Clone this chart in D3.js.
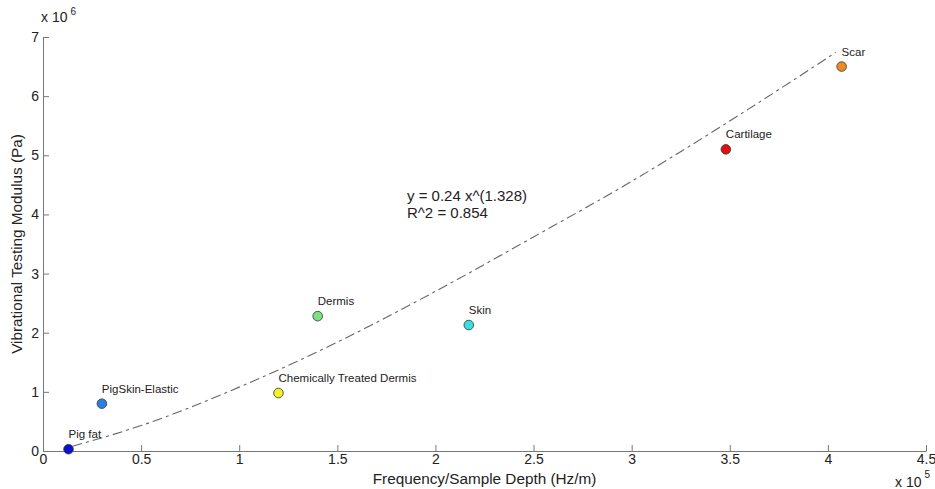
<!DOCTYPE html>
<html>
<head>
<meta charset="utf-8">
<script src="https://cdn.jsdelivr.net/npm/d3@7"></script>
<style>
    body { margin: 0; background: #fff; }
    svg text { font-family: "Liberation Sans", Arial, sans-serif; fill: #222; }
</style>
</head>
<body>
<svg id="chart" width="935" height="489"></svg>
<script>
// samples (x in 1e5 Hz/m, y in 1e6 Pa)
const names = ["Pig fat", "PigSkin-Elastic", "Chemically Treated Dermis", "Dermis", "Skin", "Cartilage", "Scar"];
const xVals = [0.13, 0.30, 1.20, 1.40, 2.17, 3.48, 4.07];
const yVals = [0.03, 0.80, 0.98, 2.28, 2.13, 5.10, 6.50];
const colors = ["#0a10d0", "#2a7fe0", "#f2f226", "#7fe07f", "#36e0e0", "#e01010", "#f08a22"];

// fitted trend line
const fitX = [0.15, 0.5, 1.0, 1.5, 2.0, 2.5, 3.0, 3.5, 4.04];
const fitY = [0.08, 0.43, 1.08, 1.84, 2.70, 3.62, 4.56, 5.58, 6.74];

const xTicks = [0, 0.5, 1, 1.5, 2, 2.5, 3, 3.5, 4, 4.5];
const yTicks = [0, 1, 2, 3, 4, 5, 6, 7];

const svg = d3.select("#chart");
const x = d3.scaleLinear().domain([0, 4.5]).range([43, 926]);
const y = d3.scaleLinear().domain([0, 7]).range([451, 37]);
const axisColor = "#777";
const fmt = d => String(d);

// axes
const xAxis = svg.append("g")
    .attr("transform", `translate(0,${y(0)})`)
    .call(d3.axisBottom(x).tickValues(xTicks).tickSizeInner(-6).tickSizeOuter(0).tickPadding(3)
        .tickFormat(fmt));
const yAxis = svg.append("g")
    .attr("transform", `translate(${x(0)},0)`)
    .call(d3.axisLeft(y).tickValues(yTicks).tickSizeInner(-6).tickSizeOuter(0).tickPadding(4)
        .tickFormat(fmt));
[xAxis, yAxis].forEach(g => {
    g.select(".domain").attr("stroke", axisColor);
    g.selectAll(".tick line").attr("stroke", axisColor);
    g.selectAll(".tick text").style("font-size", "14px").attr("fill", "#222");
});

// exponent labels
const e1 = svg.append("text").attr("x", 41).attr("y", 22).style("font-size", "14px");
e1.append("tspan").text("x 10");
e1.append("tspan").attr("dx", 3).attr("dy", -7).style("font-size", "10px").text("6");
const e2 = svg.append("text").attr("x", 895).attr("y", 487).style("font-size", "14px");
e2.append("tspan").text("x 10");
e2.append("tspan").attr("dx", 3).attr("dy", -9).style("font-size", "10px").text("5");

// axis titles
svg.append("text")
    .attr("x", (x(0) + x(4.5)) / 2).attr("y", 484)
    .attr("text-anchor", "middle").style("font-size", "15.3px")
    .text("Frequency/Sample Depth (Hz/m)");
svg.append("text")
    .attr("transform", `translate(17,${(y(0) + y(7)) / 2}) rotate(-90)`)
    .attr("text-anchor", "middle").attr("dy", "0.35em").style("font-size", "15.3px")
    .text("Vibrational Testing Modulus (Pa)");

// fit curve
const line = d3.line().x((d, i) => x(fitX[i])).y(d => y(d)).curve(d3.curveMonotoneX);
svg.append("path")
    .datum(fitY)
    .attr("d", line)
    .attr("fill", "none")
    .attr("stroke", "#666")
    .attr("stroke-width", 1.1)
    .attr("stroke-dasharray", "10,4,3,4");

// equation
svg.append("text").attr("x", 407).attr("y", 201).style("font-size", "15px").text("y = 0.24 x^(1.328)");
svg.append("text").attr("x", 407).attr("y", 218).style("font-size", "15px").text("R^2 = 0.854");

// points + labels
const pts = svg.append("g").selectAll("g")
    .data(names)
    .join("g")
    .attr("transform", (d, i) => `translate(${x(xVals[i])},${y(yVals[i])})`);
pts.append("circle")
    .attr("r", 4.8)
    .attr("fill", (d, i) => colors[i])
    .attr("stroke", "#333")
    .attr("stroke-width", 0.8);
pts.append("text")
    .attr("x", 0).attr("y", -11)
    .style("font-size", "11.5px")
    .text(d => d);
</script>
</body>
</html>
